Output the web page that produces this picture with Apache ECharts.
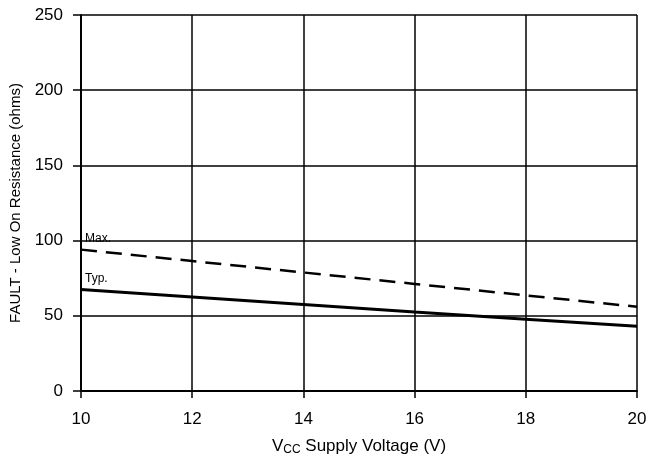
<!DOCTYPE html>
<html><head><meta charset="utf-8">
<script src="https://cdn.jsdelivr.net/npm/echarts@6/dist/echarts.min.js"></script>
<style>html,body{margin:0;padding:0;background:#fff}#c{width:660px;height:461px}</style>
</head><body><div id="c"></div>
<script>
const voltages = [10, 12, 14, 16, 18, 20];
const typValues = [67.5, 62.5, 57.5, 52.5, 47.7, 43];
const maxValues = [94, 86.4, 78.8, 71.2, 63.6, 56];
const seriesNames = ['Typ.', 'Max.'];
const xTicks = {min: 10, max: 20, interval: 2};
const yTicks = {min: 0, max: 250, interval: 50};

const font = 'Liberation Sans, Arial, sans-serif';
function toData(vals, label, offY) {
  return voltages.map((v, i) => {
    const d = {value: [v, vals[i]]};
    if (i === 0) d.label = {show: true, formatter: label, position: 'right', distance: 4, offset: [0, offY],
      fontFamily: font, fontSize: 12, color: '#000'};
    return d;
  });
}
const chart = echarts.init(document.getElementById('c'), null, {renderer: 'canvas'});
chart.setOption({
  animation: false,
  backgroundColor: '#fff',
  grid: {left: 81, right: 23, top: 15, bottom: 68, containLabel: false},
  xAxis: {
    type: 'value', min: xTicks.min, max: xTicks.max, interval: xTicks.interval,
    name: '{a|V}{b|CC}{a| Supply Voltage (V)}', nameLocation: 'middle', nameGap: 46,
    nameTextStyle: {rich: {a: {fontFamily: font, fontSize: 17, color: '#000'},
      b: {fontFamily: font, fontSize: 12, color: '#000', verticalAlign: 'bottom', padding: [7, 0, 0, 0]}}},
    axisLine: {show: true, lineStyle: {color: '#000', width: 2}},
    axisTick: {show: true, length: 7, inside: false, lineStyle: {color: '#000', width: 1.5}},
    axisLabel: {fontFamily: font, fontSize: 17, color: '#000', margin: 20},
    splitLine: {show: true, lineStyle: {color: '#000', width: 1.5}}
  },
  yAxis: {
    type: 'value', min: yTicks.min, max: yTicks.max, interval: yTicks.interval,
    name: 'FAULT - Low On Resistance (ohms)', nameLocation: 'middle', nameGap: 55, nameRotate: 90,
    nameTextStyle: {fontFamily: font, fontSize: 15, color: '#000'},
    axisLine: {show: true, lineStyle: {color: '#000', width: 2}},
    axisTick: {show: true, length: 8, inside: false, lineStyle: {color: '#000', width: 1.5}},
    axisLabel: {fontFamily: font, fontSize: 17, color: '#000', margin: 18},
    splitLine: {show: true, lineStyle: {color: '#000', width: 1.5}}
  },
  series: [
    {name: seriesNames[0], type: 'line', data: toData(typValues, seriesNames[0], -11),
     symbol: 'circle', symbolSize: 0, showSymbol: true,
     lineStyle: {color: '#000', width: 3, type: 'solid'}},
    {name: seriesNames[1], type: 'line', data: toData(maxValues, seriesNames[1], -11),
     symbol: 'circle', symbolSize: 0, showSymbol: true,
     lineStyle: {color: '#000', width: 2.5, type: [16, 9]}}
  ]
});
</script></body></html>
